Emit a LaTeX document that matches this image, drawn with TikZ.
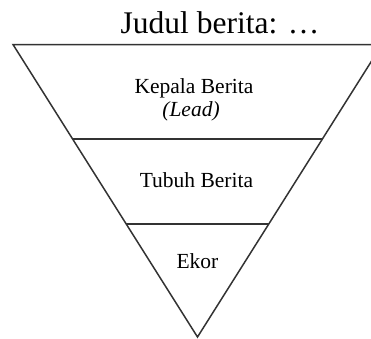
\documentclass[tikz,border=0pt]{standalone}
\usepackage{fontspec}
\setmainfont{Liberation Serif}
\begin{document}
\begin{tikzpicture}[x=1pt,y=-1pt,
  edge/.style={line width=1.5pt,draw=black!80},
  lbl/.style={anchor=base,inner sep=0pt,font=\fontsize{21.5}{24}\selectfont},
  ttl/.style={anchor=base,inner sep=0pt,font=\fontsize{31.5}{36}\selectfont}]
\useasboundingbox (0,0) rectangle (371,338);
\clip (0,0) rectangle (371,338);
\coordinate (tl) at (13,44.5);
\coordinate (tr) at (382,44.5);
\coordinate (ap) at (197.5,337);
\coordinate (l1) at (72.6,139);
\coordinate (r1) at (322.4,139);
\coordinate (l2) at (126.3,224);
\coordinate (r2) at (268.7,224);
\draw[edge,line join=miter] (tl) -- (tr) -- (ap) -- cycle;
\draw[edge] (l1) -- (r1);
\draw[edge] (l2) -- (r2);
\node[ttl] (title) at (220,33) {Judul berita: …};
\node[lbl] (kepala) at (194,93) {Kepala Berita};
\node[lbl] (lead) at (191,116) {\itshape (Lead)};
\node[lbl] (tubuh) at (196.5,187) {Tubuh Berita};
\node[lbl] (ekor) at (197.5,268) {Ekor};
\end{tikzpicture}
\end{document}
